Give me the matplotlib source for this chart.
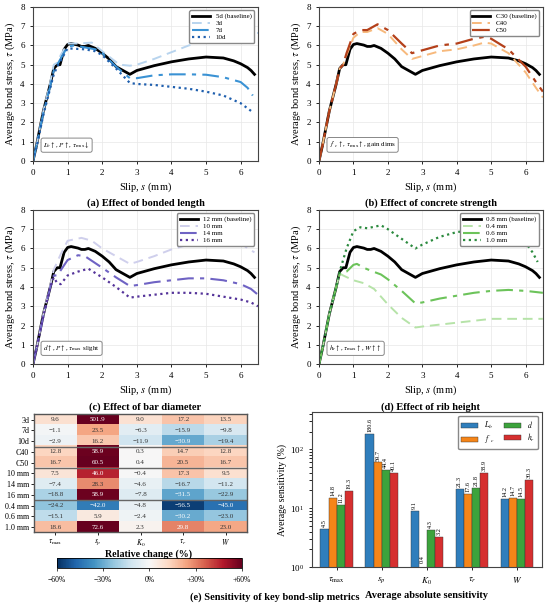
import numpy as np
import matplotlib
matplotlib.use("Agg")
import matplotlib.pyplot as plt

plt.rcParams["font.family"] = ["Liberation Serif", "DejaVu Serif"]
plt.rcParams["mathtext.fontset"] = "stix"
plt.rcParams["font.size"] = 7

# ---- curvas tau-s ----
s_base = [0, 0.1, 0.3, 0.5, 0.6, 0.7, 0.78, 0.9, 1.0, 1.1, 1.3, 1.4, 1.5, 1.6, 1.8, 2.0, 2.2, 2.4, 2.6, 2.8,
          3.0, 3.5, 4.0, 4.5, 5.0, 5.5, 5.8, 6.0, 6.2, 6.3, 6.4]
t_base = [0, 0.8, 2.6, 4.0, 4.8, 5.0, 5.0, 5.8, 6.05, 6.1, 6.02, 5.95, 5.95, 6.0, 5.85, 5.6, 5.3, 4.9, 4.7, 4.5,
          4.7, 4.95, 5.15, 5.3, 5.4, 5.35, 5.2, 5.05, 4.85, 4.7, 4.5]

s_3d = [0, 0.1, 0.3, 0.5, 0.6, 0.7, 0.8, 1.0, 1.3, 1.7, 2.0, 2.5, 2.8, 3.0, 3.5, 4.0, 4.5, 5.0, 5.5, 6.0, 6.5]
t_3d = [0, 0.8, 2.6, 4.1, 5.0, 5.1, 5.5, 6.1, 6.1, 6.15, 5.7, 5.0, 4.95, 5.0, 5.3, 5.65, 6.0, 6.3, 6.5, 6.6, 6.65]
s_7d = [0, 0.1, 0.3, 0.5, 0.6, 0.7, 1.0, 1.2, 1.5, 1.8, 2.0, 2.4, 2.8, 3.0, 3.5, 4.0, 4.5, 5.0, 5.5, 6.0, 6.2, 6.35]
t_7d = [0, 0.8, 2.5, 3.9, 4.7, 5.0, 5.95, 6.0, 5.9, 5.8, 5.6, 4.9, 4.3, 4.3, 4.45, 4.5, 4.5, 4.48, 4.35, 4.1, 3.8, 3.4]
s_10d = [0, 0.1, 0.3, 0.5, 0.6, 0.7, 1.0, 1.5, 1.8, 2.0, 2.4, 2.8, 3.0, 3.5, 4.0, 4.5, 5.0, 5.5, 6.0, 6.3]
t_10d = [0, 0.7, 2.4, 3.8, 4.5, 4.9, 5.85, 5.8, 5.7, 5.5, 4.8, 4.05, 4.0, 3.95, 3.85, 3.75, 3.6, 3.4, 3.0, 2.6]

s_c40 = [0, 0.1, 0.3, 0.5, 0.6, 0.7, 0.8, 1.0, 1.2, 1.4, 1.7, 2.0, 2.4, 2.7, 3.0, 3.5, 4.0, 4.5, 4.8, 5.0, 5.5, 6.0, 6.3, 6.5]
t_c40 = [0, 0.8, 2.6, 4.0, 4.8, 5.0, 5.5, 6.4, 6.7, 6.7, 6.9, 6.6, 5.8, 5.3, 5.45, 5.7, 5.8, 6.0, 6.15, 6.1, 5.6, 4.6, 3.8, 3.3]
s_c50 = [0, 0.1, 0.3, 0.5, 0.6, 0.7, 0.8, 1.0, 1.2, 1.4, 1.7, 2.0, 2.4, 2.7, 3.0, 3.5, 4.0, 4.5, 4.8, 5.0, 5.5, 6.0, 6.3, 6.5]
t_c50 = [0, 0.8, 2.6, 4.0, 4.8, 5.0, 5.6, 6.6, 6.8, 6.8, 7.1, 6.8, 6.1, 5.6, 5.75, 6.0, 6.1, 6.35, 6.45, 6.35, 5.8, 4.9, 4.1, 3.6]

s_10mm = [0, 0.1, 0.3, 0.5, 0.6, 0.8, 1.0, 1.4, 1.7, 2.0, 2.4, 2.8, 3.0, 3.5, 4.0, 4.5, 5.0, 5.5, 6.0, 6.2, 6.4]
t_10mm = [0, 0.8, 2.6, 4.1, 4.9, 5.7, 6.4, 6.55, 6.4, 6.0, 5.6, 5.2, 5.3, 5.6, 5.95, 6.2, 6.35, 6.4, 6.3, 6.0, 5.8]
s_14mm = [0, 0.1, 0.3, 0.5, 0.6, 0.7, 1.0, 1.3, 1.5, 2.0, 2.4, 2.8, 3.0, 3.5, 4.0, 4.5, 5.0, 5.5, 6.0, 6.3, 6.5]
t_14mm = [0, 0.8, 2.5, 4.0, 4.6, 4.6, 5.4, 5.65, 5.6, 5.0, 4.5, 4.05, 4.1, 4.25, 4.35, 4.45, 4.45, 4.35, 4.15, 3.9, 3.6]
s_16mm = [0, 0.1, 0.3, 0.5, 0.6, 0.7, 0.8, 1.0, 1.3, 1.6, 2.0, 2.4, 2.8, 3.0, 3.5, 4.0, 4.5, 5.0, 5.5, 6.0, 6.3, 6.5]
t_16mm = [0, 0.8, 2.5, 4.0, 4.5, 4.2, 4.15, 4.6, 4.8, 4.95, 4.5, 4.0, 3.45, 3.5, 3.6, 3.7, 3.7, 3.65, 3.5, 3.35, 3.2, 3.0]

s_04 = [0, 0.1, 0.3, 0.5, 0.6, 0.7, 1.0, 1.3, 1.6, 2.0, 2.4, 2.8, 3.0, 3.5, 4.0, 4.5, 5.0, 5.5, 6.0, 6.5]
t_04 = [0, 0.8, 2.6, 4.0, 4.7, 4.6, 4.35, 4.2, 3.9, 3.1, 2.4, 1.9, 1.95, 2.05, 2.15, 2.25, 2.35, 2.35, 2.35, 2.35]
s_06 = [0, 0.1, 0.3, 0.5, 0.6, 0.8, 1.0, 1.1, 1.3, 1.5, 1.8, 2.0, 2.4, 2.8, 3.0, 3.5, 4.0, 4.5, 5.0, 5.5, 6.0, 6.5]
t_06 = [0, 0.8, 2.6, 4.0, 4.7, 4.8, 5.15, 5.2, 5.0, 4.85, 4.65, 4.4, 3.8, 3.15, 3.2, 3.4, 3.55, 3.7, 3.8, 3.85, 3.8, 3.7]
s_10 = [0, 0.1, 0.3, 0.5, 0.6, 0.8, 1.0, 1.2, 1.4, 1.8, 2.0, 2.4, 2.8, 3.0, 3.5, 4.0, 4.5, 5.0, 5.5, 6.0, 6.2, 6.35]
t_10 = [0, 0.8, 2.6, 4.0, 4.8, 6.0, 6.9, 7.1, 7.05, 7.2, 7.0, 6.5, 6.0, 6.2, 6.6, 6.85, 6.95, 7.0, 6.9, 6.3, 5.8, 5.3]

# ---- mapa de calor: cambio relativo (%) ----
filas = ["3d", "7d", "10d", "C40", "C50", "10 mm", "14 mm", "16 mm", "0.4 mm", "0.6 mm", "1.0 mm"]
metricas = [r"$\tau_{\max}$", r"$s_p$", r"$K_0$", r"$\tau_r$", r"$W$"]
cambio = np.array([
    [9.6, 501.9, 9.0, 17.2, 13.5],
    [-1.1, 23.5, -6.3, -15.9, -9.8],
    [-2.9, 16.2, -11.9, -30.9, -19.4],
    [12.8, 58.9, 0.3, 14.7, 12.8],
    [16.7, 60.5, 0.4, 20.5, 16.7],
    [7.5, 46.0, -0.4, 17.3, 9.5],
    [-7.4, 28.3, -4.6, -16.7, -11.2],
    [-18.8, 58.9, -7.8, -31.5, -22.9],
    [-24.2, -42.0, -4.8, -56.5, -45.0],
    [-15.1, 5.9, -2.4, -30.2, -23.0],
    [18.6, 72.6, 2.3, 29.8, 23.0],
])

# ---- sensibilidad media absoluta (%) ----
grupos = [r"$L_b$", r"$f'_c$", r"$d$", r"$h_r$"]
sens_Lb = [4.5, 180.6, 9.1, 21.3, 14.2]
sens_fc = [14.8, 59.7, 0.4, 17.6, 14.7]
sens_d = [11.2, 44.4, 4.3, 21.8, 14.5]
sens_hr = [19.3, 40.1, 3.2, 38.9, 30.3]

fig = plt.figure(figsize=(5.5, 6.12), dpi=100)


def panel_curvas(pos, curvas, nota, titulo):
    ax = fig.add_axes(pos)
    for s, t, lab, col, ls, lw in curvas:
        ax.plot(s, t, color=col, linestyle=ls, linewidth=lw, label=lab)
    ax.set_xlim(0, 6.5)
    ax.set_ylim(0, 8)
    ax.set_xticks(range(0, 7))
    ax.set_yticks(range(0, 9))
    ax.grid(color="#e8e8e8", linewidth=0.5)
    ax.set_axisbelow(True)
    ax.tick_params(labelsize=6.5, length=2.5, width=0.6)
    for sp in ax.spines.values():
        sp.set_linewidth(0.8)
        sp.set_color("#444444")
    ax.set_xlabel(r"Slip, $s$ (mm)", fontsize=7.5, labelpad=2)
    ax.set_ylabel(r"Average bond stress, $\tau$ (MPa)", fontsize=7.5, labelpad=2)
    ax.legend(loc="upper right", fontsize=5, handlelength=2.6, labelspacing=0.15,
              borderpad=0.4, framealpha=1, edgecolor="#888888", fancybox=True)
    ax.text(0.045, 0.07, nota, transform=ax.transAxes, fontsize=5, va="bottom", ha="left",
            bbox=dict(boxstyle="round,pad=0.3", fc="white", ec="#888888", lw=0.7))
    ax.text(0.5, -0.245, titulo, transform=ax.transAxes, ha="center", va="top",
            fontsize=7.5, fontweight="bold")
    return ax


negro = "black"
panel_curvas([0.06, 0.737, 0.409, 0.2516], [
    (s_base, t_base, "5d (baseline)", negro, "-", 2.0),
    (s_3d, t_3d, "3d", "#b8d4ee", (0, (5, 3)), 1.4),
    (s_7d, t_7d, "7d", "#3a92d4", (0, (8, 3, 2, 3)), 1.5),
    (s_10d, t_10d, "10d", "#1f5fae", (0, (1, 1.6)), 1.6),
], r"$L_b\uparrow$, $P\uparrow$, $\tau_{\max}\downarrow$", "(a) Effect of bonded length")

panel_curvas([0.58, 0.737, 0.407, 0.2516], [
    (s_base, t_base, "C30 (baseline)", negro, "-", 2.0),
    (s_c40, t_c40, "C40", "#f7b97c", (0, (5, 3)), 1.4),
    (s_c50, t_c50, "C50", "#b4401a", (0, (8, 3, 2, 3)), 1.6),
], r"$f'_c\uparrow$, $\tau_{\max}\uparrow$, gain dims", "(b) Effect of concrete strength")

panel_curvas([0.06, 0.405, 0.409, 0.252], [
    (s_base, t_base, "12 mm (baseline)", negro, "-", 2.0),
    (s_10mm, t_10mm, "10 mm", "#cfcfec", (0, (5, 3)), 1.4),
    (s_14mm, t_14mm, "14 mm", "#6f63c4", (0, (8, 3, 2, 3)), 1.5),
    (s_16mm, t_16mm, "16 mm", "#55349a", (0, (1, 1.6)), 1.6),
], r"$d\uparrow$, $P\uparrow$, $\tau_{\max}$ slight", "(c) Effect of bar diameter")

panel_curvas([0.58, 0.405, 0.407, 0.252], [
    (s_base, t_base, "0.8 mm (baseline)", negro, "-", 2.0),
    (s_04, t_04, "0.4 mm", "#b6e3a8", (0, (5, 3)), 1.4),
    (s_06, t_06, "0.6 mm", "#6cc35a", (0, (8, 3, 2, 3)), 1.5),
    (s_10, t_10, "1.0 mm", "#2b8a3e", (0, (1, 1.6)), 1.6),
], r"$h_r\uparrow$, $\tau_{\max}\uparrow$, $W\uparrow\uparrow$", "(d) Effect of rib height")

# ---- (e) izquierda: mapa de calor ----
axh = fig.add_axes([0.062, 0.130, 0.387, 0.193])
im = axh.imshow(cambio, cmap="RdBu_r", vmin=-60, vmax=60, aspect="auto")
for i in range(cambio.shape[0]):
    for j in range(cambio.shape[1]):
        v = cambio[i, j]
        col = "white" if abs(v) > 29 else "#333333"
        axh.text(j, i, f"{v:.1f}".replace("-", "\u2212"), ha="center", va="center", fontsize=5, color=col)
for y in [2.5, 4.5, 7.5]:
    axh.axhline(y, color="#666666", linewidth=1.0)
axh.set_xticks(range(len(metricas)))
axh.set_xticklabels(metricas, fontsize=5.5)
axh.set_yticks(range(len(filas)))
axh.set_yticklabels(filas, fontsize=5.8)
axh.tick_params(length=2.5, width=0.6, pad=1.0)
for sp in axh.spines.values():
    sp.set_linewidth(1.0)
    sp.set_color("#555555")
fig.text(0.27, 1 - 554 / 612, "Relative change (%)", ha="center", va="center",
         fontsize=7.2, fontweight="bold")

cax = fig.add_axes([0.1036, 0.0719, 0.336, 0.0163])
cb = fig.colorbar(im, cax=cax, orientation="horizontal")
cb.set_ticks([-60, -30, 0, 30, 60])
cb.set_ticklabels(["\u221260%", "\u221230%", "0%", "+30%", "+60%"])
cb.ax.tick_params(labelsize=5.5, length=2, width=0.5)
cb.outline.set_linewidth(0.6)

# ---- (e) derecha: barras ----
axb = fig.add_axes([0.567, 0.0735, 0.418, 0.2533])
x = np.arange(len(metricas))
w = 0.18
colores = ["#2f7ebc", "#f58518", "#3ca33c", "#d62f2f"]
for k, (vals, lab) in enumerate(zip([sens_Lb, sens_fc, sens_d, sens_hr], grupos)):
    barras = axb.bar(x + (k - 1.5) * w, vals, w, color=colores[k], label=lab,
                     edgecolor="#333333", linewidth=0.3)
    for b, v in zip(barras, vals):
        axb.text(b.get_x() + b.get_width() / 2, max(v * 1.08, 1.15), f"{v:.1f}", rotation=90,
                 ha="center", va="bottom", fontsize=4.5)
axb.set_yscale("log")
axb.set_ylim(1, 430)
axb.set_xlim(-0.55, 4.55)
axb.set_xticks(x)
axb.set_xticklabels(metricas, fontsize=6.5)
axb.tick_params(labelsize=6.5, length=2.5, width=0.6)
axb.set_ylabel("Average sensitivity (%)", fontsize=7, labelpad=2)
axb.set_xlabel("Average absolute sensitivity", fontsize=7.5, fontweight="bold", labelpad=3)
axb.legend(ncol=2, loc="upper right", fontsize=5.5, handlelength=2.2, columnspacing=1.2,
           labelspacing=0.2, framealpha=1, edgecolor="#888888")
for sp in axb.spines.values():
    sp.set_linewidth(0.8)
    sp.set_color("#444444")

fig.text(0.5, 0.025, "(e) Sensitivity of key bond-slip metrics", ha="center", va="center",
         fontsize=7.5, fontweight="bold")

fig.savefig("out.png", dpi=100)
